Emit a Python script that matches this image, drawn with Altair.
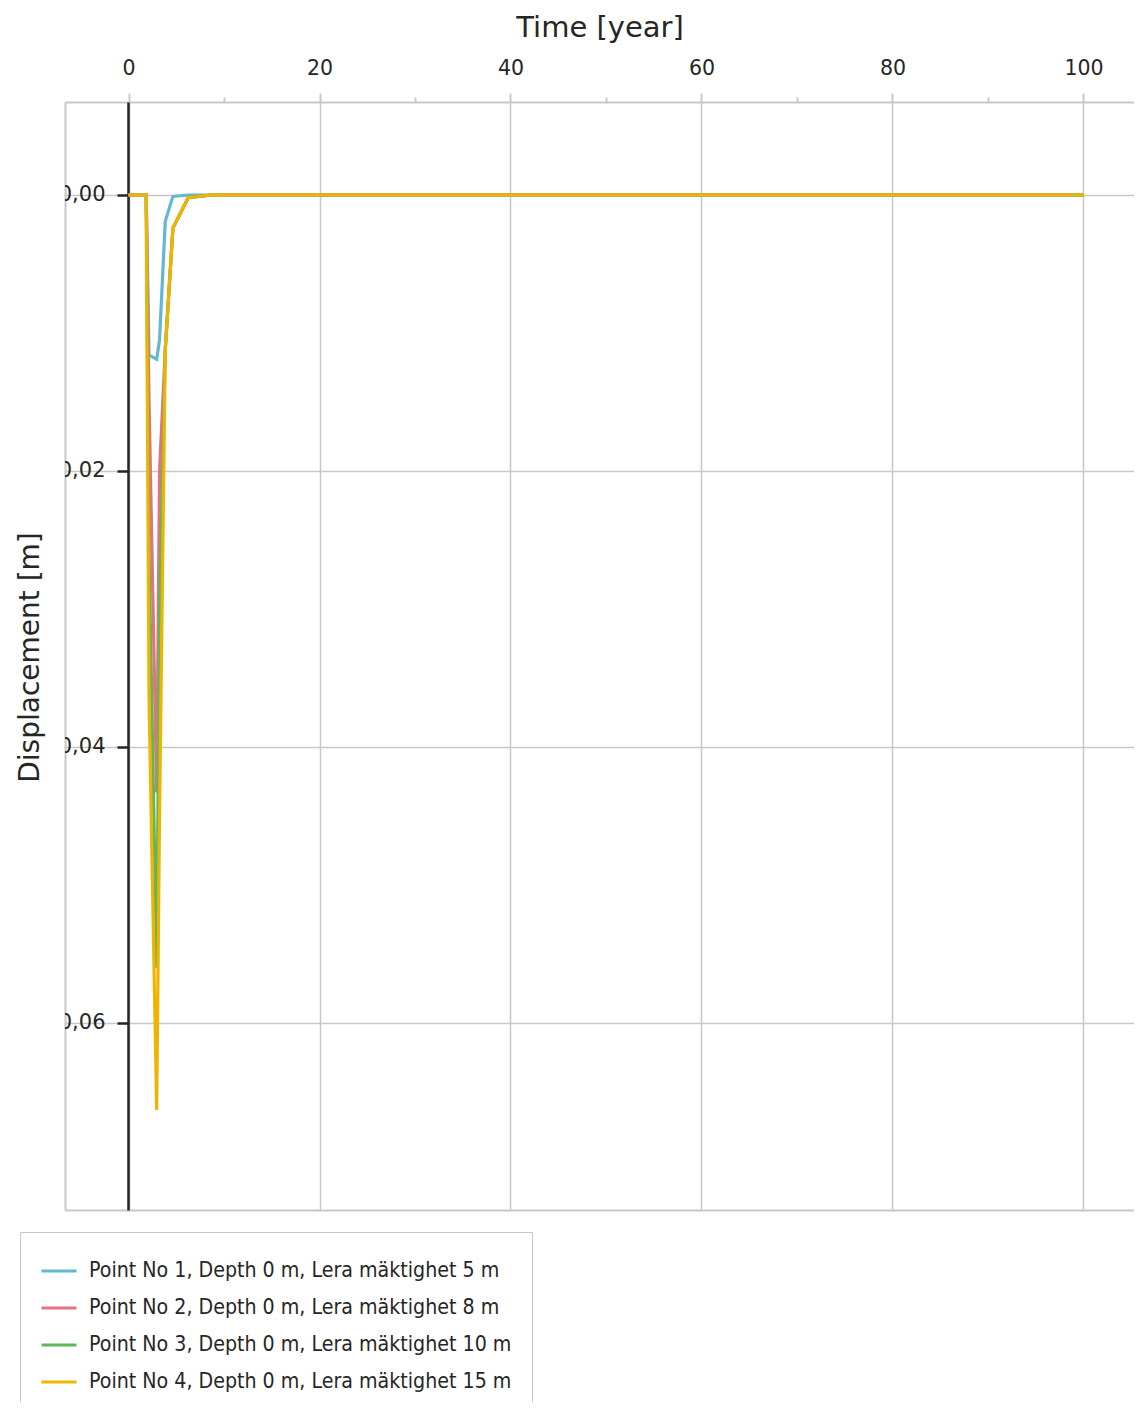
import altair as alt
import pandas as pd

# ---- data ----
times = [0, 1.85, 2.15, 2.95, 3.25, 3.85, 4.65, 6.25, 8.7, 100]
point1 = [0, 0, 0.0116, 0.0119, 0.0105, 0.0019, 0.0001, 0, 0, 0]
point2 = [0, 0, 0.0149, 0.0433, 0.0200, 0.0112, 0.0024, 0.0002, 0, 0]
point3 = [0, 0, 0.0260, 0.0560, 0.0300, 0.0112, 0.0024, 0.0002, 0, 0]
point4 = [0, 0, 0.0366, 0.0663, 0.0450, 0.0112, 0.0024, 0.0002, 0, 0]
series_names = [
    "Point No 1, Depth 0 m, Lera mäktighet 5 m",
    "Point No 2, Depth 0 m, Lera mäktighet 8 m",
    "Point No 3, Depth 0 m, Lera mäktighet 10 m",
    "Point No 4, Depth 0 m, Lera mäktighet 15 m",
]
colors = ["#63b8d1", "#e8707f", "#5cb85c", "#f0b400"]

x_ticks = [0, 20, 40, 60, 80, 100]
x_minor = [10, 30, 50, 70, 90]
y_ticks = [0, 0.02, 0.04, 0.06]
y_labels = ["0,00", "0,02", "0,04", "0,06"]

AXFONT = "DejaVu Sans, Verdana, sans-serif"
LEGFONT = "DejaVu Sans Condensed, Noto Sans, sans-serif"
GRID = "#c8c8c8"
TXT = "#262626"

rows = []
for name, vals in zip(series_names, [point1, point2, point3, point4]):
    for t, d in zip(times, vals):
        rows.append({"t": t, "d": d, "series": name})
df = pd.DataFrame(rows)
ylab_df = pd.DataFrame({"v": y_ticks, "lab": y_labels})

xs = alt.Scale(domain=[-6.65, 105.29], nice=False, zero=False)
ys = alt.Scale(domain=[-0.00674, 0.07355], reverse=True, nice=False, zero=False)

lines = alt.Chart(df).mark_line(strokeWidth=3.2, clip=True).encode(
    x=alt.X("t:Q", scale=xs, axis=alt.Axis(
        orient="top", values=x_ticks, title="Time [year]", grid=True,
        gridColor=GRID, gridWidth=1.5, domainColor=GRID, domainWidth=2,
        tickColor=GRID, tickSize=9, tickWidth=2,
        labelFont=AXFONT, labelFontSize=20.5, labelColor=TXT, labelPadding=15,
        titleFont=AXFONT, titleFontSize=29, titleFontWeight="normal",
        titleColor=TXT, titlePadding=16)),
    y=alt.Y("d:Q", scale=ys, axis=alt.Axis(
        orient="left", offset=-63, values=y_ticks, labels=False, grid=True,
        gridColor=GRID, gridWidth=1.5, domainColor=TXT, domainWidth=2.5,
        tickColor=TXT, tickSize=11, tickWidth=2.5,
        title="Displacement [m]", titleFont=AXFONT, titleFontSize=28,
        titleFontWeight="normal", titleColor=TXT, titleAngle=-90,
        titleX=-98, titleY=555, titleAlign="center", titleBaseline="middle")),
    color=alt.Color("series:N", scale=alt.Scale(domain=series_names, range=colors),
                    legend=alt.Legend(
                        title=None, orient="none", legendX=-45, legendY=1130,
                        direction="vertical", symbolType="stroke", symbolSize=1225,
                        symbolStrokeWidth=3, labelFont=LEGFONT, labelFontSize=21.2,
                        labelColor=TXT, labelOffset=11, rowPadding=7, padding=20,
                        strokeColor=GRID, fillColor="white", labelLimit=700)),
)

# minor ticks on the top axis + left frame line
frame_top_left = alt.Chart(df).mark_point(opacity=0).encode(
    x=alt.X("t:Q", scale=xs, axis=alt.Axis(
        orient="top", values=x_minor, labels=False, domain=False, grid=False,
        tickColor=GRID, tickSize=5, tickWidth=2, title=None)),
    y=alt.Y("d:Q", scale=ys, axis=alt.Axis(
        orient="left", labels=False, ticks=False, grid=False, domain=True,
        domainColor=GRID, domainWidth=2, title=None)),
)

# bottom frame line
frame_bottom = alt.Chart(df).mark_point(opacity=0).encode(
    x=alt.X("t:Q", scale=xs, axis=alt.Axis(
        orient="bottom", labels=False, ticks=False, grid=False, domain=True,
        domainColor=GRID, domainWidth=2, title=None)),
    y=alt.Y("d:Q", scale=ys, axis=None),
)

ylabels = alt.Chart(ylab_df).mark_text(
    align="right", baseline="middle", dx=-23, fontSize=21, font=AXFONT,
    color=TXT, clip=True).encode(
    x=alt.XDatum(0, axis=None),
    y=alt.Y("v:Q", scale=ys, axis=None),
    text="lab:N",
)

chart = alt.layer(lines, frame_top_left, frame_bottom, ylabels).resolve_axis(
    x="independent", y="independent").properties(
    width=1069, height=1108,
    autosize=alt.AutoSizeParams(type="none"),
    padding={"left": 57, "top": 94, "right": 0, "bottom": 192},
    background="white",
).configure_view(stroke=None)

chart.save("out.html", embed_options={"renderer": "svg", "actions": False})
